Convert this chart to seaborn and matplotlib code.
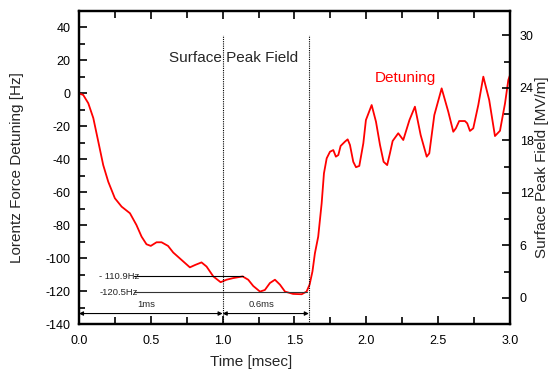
import matplotlib.pyplot as plt
import pandas as pd
import seaborn as sns

# Lorentz force detuning trace
time_ms = [0.00, 0.03, 0.065, 0.10, 0.134, 0.169, 0.204, 0.25, 0.297, 0.355,
           0.40, 0.436, 0.47, 0.50, 0.54, 0.575, 0.62, 0.656, 0.772, 0.81,
           0.853, 0.888, 0.935, 0.986, 1.027, 1.074, 1.139, 1.178, 1.213, 1.26,
           1.294, 1.329, 1.364, 1.399, 1.434, 1.49, 1.55, 1.584, 1.605, 1.625,
           1.642, 1.665, 1.689, 1.705, 1.724, 1.747, 1.77, 1.788, 1.805, 1.821,
           1.851, 1.87, 1.886, 1.909, 1.928, 1.951, 1.979, 1.997, 2.037, 2.067,
           2.095, 2.12, 2.145, 2.164, 2.183, 2.222, 2.257, 2.30, 2.338, 2.378,
           2.42, 2.438, 2.473, 2.524, 2.57, 2.605, 2.623, 2.646, 2.686, 2.702,
           2.721, 2.744, 2.779, 2.814, 2.855, 2.895, 2.93, 2.965, 2.988, 3.0]
detuning_hz = [0.0, -1.0, -6.0, -15.0, -29.0, -43.5, -53.6, -63.6, -68.7, -72.7,
               -79.8, -86.9, -91.5, -92.5, -90.3, -90.3, -92.5, -96.5, -105.5, -104.0,
               -102.5, -105.0, -111.0, -114.5, -113.0, -112.0, -111.0, -113.0, -116.8, -120.2,
               -119.2, -115.0, -113.0, -116.0, -120.2, -121.6, -121.8, -120.2, -116.0, -108.0,
               -97.0, -86.9, -66.7, -48.5, -39.4, -35.4, -34.4, -38.4, -37.4, -31.9,
               -29.3, -27.9, -31.3, -41.5, -44.8, -44.0, -30.3, -16.2, -7.1, -17.2,
               -31.3, -41.5, -43.5, -36.4, -28.9, -24.2, -28.3, -16.2, -8.1, -25.3,
               -38.4, -36.4, -13.2, 3.0, -11.1, -23.3, -21.2, -16.8, -16.8, -18.2,
               -22.8, -21.2, -7.1, 10.1, -4.1, -25.9, -22.7, -6.1, 8.1, 11.1]

# surface peak field pulse edges (msec) and level (MV/m)
pulse_edges = [1.0, 1.6]
field_peak = 30
field_floor = -3

# marked levels and spans
levels_hz = [-110.9, -120.5]
level_labels = ['- 110.9Hz', '-120.5Hz']
level_spans = [(0.38, 1.14), (0.38, 1.59)]
span_edges = [0.0, 1.0, 1.6]
span_labels = ['1ms', '0.6ms']

df = pd.DataFrame({'time': time_ms, 'detuning': detuning_hz})

sns.set_style('ticks')
plt.rcParams['font.family'] = ['Liberation Sans', 'DejaVu Sans']
plt.rcParams['axes.unicode_minus'] = False

fig = plt.figure(figsize=(5.52, 3.74), dpi=100)
ax = fig.add_axes([0.143, 0.133, 0.781, 0.838])
ax2 = ax.twinx()

sns.lineplot(data=df, x='time', y='detuning', ax=ax, color='#ff0000',
             linewidth=1.3, sort=False, estimator=None)

# field pulse edges on the right axis
ax2.vlines(pulse_edges, field_floor, field_peak, colors='black',
           linestyles=(0, (1, 1)), linewidth=0.8)

# level lines and labels
for lvl, lab, (x0, x1), c in zip(levels_hz, level_labels, level_spans, ['black', '#333333']):
    ax.plot([x0, x1], [lvl, lvl], color=c, linewidth=0.8)
    ax.text(0.28, lvl, lab, fontsize=6.8, ha='center', va='center')

# span arrows
for (x0, x1), lab in zip(zip(span_edges[:-1], span_edges[1:]), span_labels):
    ax.annotate('', xy=(x0, -133.5), xytext=(x1, -133.5),
                arrowprops=dict(arrowstyle='<|-|>', color='black', lw=0.8,
                                shrinkA=0, shrinkB=0, mutation_scale=6))
    ax.text((x0 + x1) / 2 - 0.03, -128.3, lab, fontsize=6.8, ha='center', va='center')

ax.text(0.626, 21.4, 'Surface Peak Field', fontsize=11, ha='left', va='center')
ax.text(2.27, 9.3, 'Detuning', fontsize=11, ha='center', va='center', color='#ff0000')

ax.set_xlim(0, 3.0)
ax.set_ylim(-140, 50)
ax2.set_ylim(field_floor, 32.8)

ax.set_xticks([0.0, 0.5, 1.0, 1.5, 2.0, 2.5, 3.0])
ax.set_xticks([0.25, 0.75, 1.25, 1.75, 2.25, 2.75], minor=True)
ax.set_xticklabels(['0.0', '0.5', '1.0', '1.5', '2.0', '2.5', '3.0'])
ax.set_yticks(range(-140, 41, 20))
ax.set_yticks(range(-130, 51, 20), minor=True)
ax2.set_yticks(range(0, 31, 6))
ax2.set_yticks(range(3, 31, 6), minor=True)

ax.tick_params(which='both', direction='in', top=True, right=False, labelsize=9,
               width=1.2, colors='black')
ax.tick_params(which='major', length=6)
ax.tick_params(which='minor', length=4)
ax.tick_params(axis='x', which='minor', length=5)
ax.tick_params(axis='x', which='major', pad=8)
ax.tick_params(axis='y', which='major', pad=6)
ax2.tick_params(which='both', direction='in', labelsize=9, width=1.2, colors='black')
ax2.tick_params(which='major', length=6, pad=7)
ax2.tick_params(which='minor', length=4)

for a in (ax, ax2):
    for s in a.spines.values():
        s.set_linewidth(1.6)
        s.set_color('black')

ax.set_xlabel('Time [msec]', fontsize=11)
ax.set_ylabel('Lorentz Force Detuning [Hz]', fontsize=11)
ax2.set_ylabel('Surface Peak Field [MV/m]', fontsize=11)
ax.xaxis.set_label_coords(0.40, -0.099)
ax.yaxis.set_label_coords(-0.128, 0.5)
ax2.yaxis.set_label_coords(1.058, 0.5)

plt.savefig('out.png', dpi=100)
